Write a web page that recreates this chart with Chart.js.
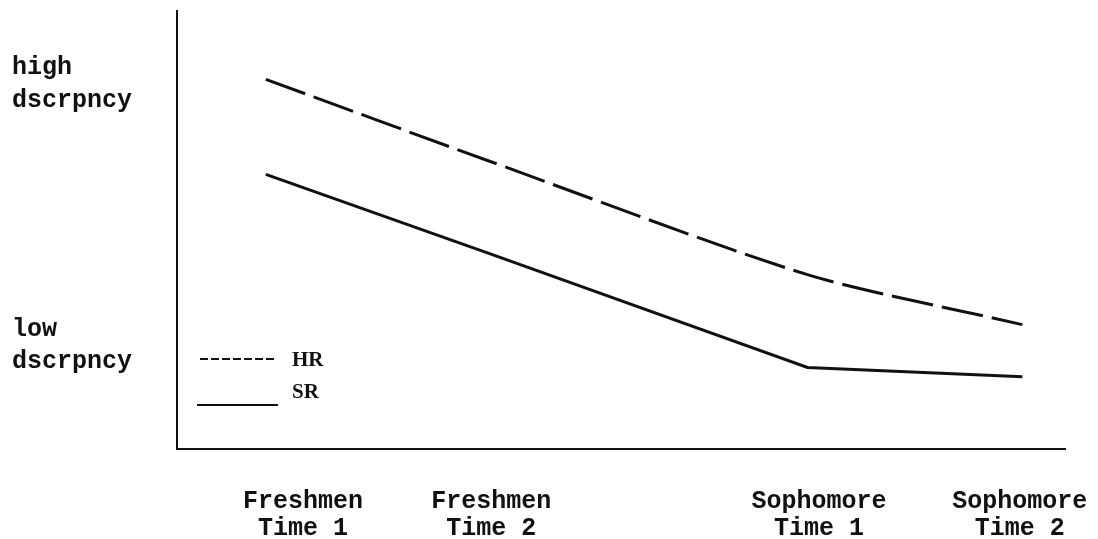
<!DOCTYPE html>
<html>
<head>
<meta charset="utf-8">
<script src="https://cdn.jsdelivr.net/npm/chart.js@4.4.1/dist/chart.umd.min.js"></script>
<style>
  html, body { margin: 0; padding: 0; background: #fff; }
  #wrap { width: 1098px; height: 539px; }
</style>
</head>
<body>
<div id="wrap"><canvas id="chart" width="1098" height="539"></canvas></div>
<script>
// group labels along the bottom, and where they sit on the 0-100 x scale
const groupLabels = [['Freshmen', 'Time 1'], ['Freshmen', 'Time 2'], ['Sophomore', 'Time 1'], ['Sophomore', 'Time 2']];
const groupTickPos = [14.2, 35.4, 72.3, 94.9];

// y axis: only two qualitative marks
const levelLabels = [['high', 'dscrpncy'], ['low', 'dscrpncy']];
const levelTickPos = [83.3, 23.6];

// measured points (x on 0-100, y on 0-100 discrepancy)
const pointX = [10.0, 35.2, 71.0, 95.2];
const hrValues = [84.4, 65.7, 39.8, 28.4];
const srValues = [62.7, 44.6, 18.6, 16.5];

const toPoints = (ys) => ys.map((y, i) => ({ x: pointX[i], y: y }));

// little legend drawn inside the plot, lower left
const insideLegend = {
    id: 'insideLegend',
    afterDraw(chart) {
        const ctx = chart.ctx;
        ctx.save();
        ctx.strokeStyle = '#111';
        ctx.lineWidth = 2;
        // HR sample (short dashes)
        ctx.setLineDash([8, 3]);
        ctx.beginPath();
        ctx.moveTo(200, 359);
        ctx.lineTo(276, 359);
        ctx.stroke();
        // SR sample (solid)
        ctx.setLineDash([]);
        ctx.beginPath();
        ctx.moveTo(197, 405);
        ctx.lineTo(278, 405);
        ctx.stroke();
        ctx.fillStyle = '#111';
        ctx.font = 'bold 21px "Liberation Serif"';
        ctx.textBaseline = 'middle';
        ctx.fillText(chart.data.datasets[0].label, 292, 361);
        ctx.fillText(chart.data.datasets[1].label, 292, 393);
        ctx.restore();
    }
};

const ctx = document.getElementById('chart').getContext('2d');
new Chart(ctx, {
    type: 'line',
    data: {
        datasets: [
            {
                label: 'HR',
                data: toPoints(hrValues),
                borderColor: '#111',
                borderWidth: 3,
                borderDash: [42, 9],
                pointRadius: 0,
                tension: 0.25,
                fill: false,
            },
            {
                label: 'SR',
                data: toPoints(srValues),
                borderColor: '#111',
                borderWidth: 3,
                pointRadius: 0,
                tension: 0,
                fill: false,
            },
        ]
    },
    options: {
        responsive: false,
        animation: false,
        layout: { padding: { top: 11, right: 33, left: 12, bottom: 0 } },
        plugins: {
            legend: { display: false },
            tooltip: { enabled: false },
        },
        scales: {
            x: {
                type: 'linear',
                min: 0,
                max: 100,
                grid: { display: false },
                border: { display: true, color: '#111', width: 2 },
                afterBuildTicks: (scale) => { scale.ticks = groupTickPos.map(v => ({ value: v })); },
                afterFit: (scale) => { scale.height = 90; scale.paddingLeft = 0; scale.paddingRight = 0; },
                ticks: {
                    color: '#111',
                    padding: 31,
                    maxRotation: 0,
                    autoSkip: false,
                    font: { family: '"Liberation Mono"', size: 25, weight: 'bold', lineHeight: 1.08 },
                    callback: (v, i) => groupLabels[i],
                },
            },
            y: {
                type: 'linear',
                min: 0,
                max: 100,
                grid: { display: false },
                border: { display: true, color: '#111', width: 2 },
                afterBuildTicks: (scale) => { scale.ticks = levelTickPos.map(v => ({ value: v })); },
                afterFit: (scale) => { scale.width = 165; scale.paddingTop = 0; scale.paddingBottom = 0; },
                ticks: {
                    color: '#111',
                    crossAlign: 'far',
                    autoSkip: false,
                    font: { family: '"Liberation Mono"', size: 25, weight: 'bold', lineHeight: 1.3 },
                    callback: (v, i) => levelLabels[i],
                },
            }
        }
    },
    plugins: [insideLegend]
});
</script>
</body>
</html>
